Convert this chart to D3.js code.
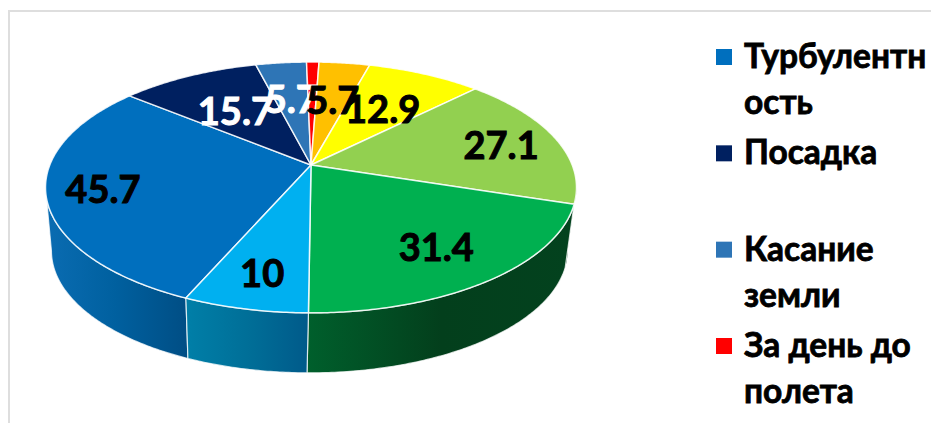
<!DOCTYPE html>
<html>
<head>
<meta charset="utf-8">
<script src="https://cdn.jsdelivr.net/npm/d3@7"></script>
<style>
    html, body { margin: 0; padding: 0; background: #fff; }
    svg { display: block; }
    text { font-family: Lato, "Open Sans", sans-serif; font-weight: 700; }
</style>
</head>
<body>
<div id="chart"></div>
<script>
// Slice values, in the chart's own order. Red has no readable label, its value is estimated.
const sliceKeys = ['turbulence', 'landing', 'touchdown', 'dayBefore', 'orange', 'yellow', 'lightGreen', 'green', 'cyan'];
const sliceValues = [45.7, 15.7, 5.7, 1.4, 5.7, 12.9, 27.1, 31.4, 10];
const sliceLabels = ['45.7', '15.7', '5.7', null, '5.7', '12.9', '27.1', '31.4', '10'];
const sliceColors = ['#006fbe', '#002060', '#2e75b6', '#ff0000', '#ffc000', '#ffff00', '#92d050', '#00b050', '#00b0f0'];
const labelColors = ['#000', '#fff', '#fff', null, '#000', '#000', '#000', '#000', '#000'];
const labelRadius = [0.785, 0.62, 0.66, 0, 0.65, 0.63, 0.78, 0.7, 0.74];

const legendNames = [['Турбулентн', 'ость'], ['Посадка', ''], ['Касание', 'земли'], ['За день до', 'полета']];
const legendColors = ['#006fbe', '#002060', '#2e75b6', '#ff0000'];

// Side wall gradients, only the front slices show a wall
const wallStops = {
    turbulence: ['#0a6cb2', '#00609f', '#004e85'],
    cyan: ['#007fa8', '#006f98', '#005a8a'],
    green: ['#005f2c', '#033f1c', '#03421e'],
    lightGreen: ['#03421e', '#03421e', '#03421e']
};

const width = 931, height = 423;
const apex = { x: 311, y: 165 };
const persp = { a: 261.2, b: 121.4, p: 0.179 };
const base = { scale: 0.972, dx: -1.5, dy: 63.5, cx: 311.5, cy: 187.5 };
const startAngle = 203.6 * Math.PI / 180;

const svg = d3.select('#chart').append('svg')
    .attr('width', width)
    .attr('height', height);

// Light frame, cut by the right and bottom edges of the picture
svg.append('path')
    .attr('d', `M9,${height}V11H${width}`)
    .attr('fill', 'none')
    .attr('stroke', '#dedede')
    .attr('stroke-width', 2);

// Circle angle to screen position on the tilted top face
function rim(theta) {
    const w = 1 + persp.p * Math.cos(theta);
    return [apex.x + persp.a * Math.sin(theta) / w, apex.y - persp.b * Math.cos(theta) / w];
}

// Same angle on the lower, slightly smaller face
function rimBase(theta) {
    const [x, y] = rim(theta);
    return [base.cx + base.dx + base.scale * (x - base.cx), base.cy + base.dy + base.scale * (y - base.cy)];
}

function sampleAngles(a0, a1) {
    const n = Math.max(2, Math.ceil(Math.abs(a1 - a0) / 0.01));
    return d3.range(n + 1).map(i => a0 + (a1 - a0) * i / n);
}

const line = d3.line();

const pie = d3.pie()
    .sort(null)
    .startAngle(startAngle)
    .endAngle(startAngle + 2 * Math.PI);

const slices = pie(sliceValues).map((d, i) => ({ ...d, key: sliceKeys[i], index: i }));

const defs = svg.append('defs');

// Angle where the outline of the pie turns away from the viewer
const silhouette = Math.acos(-persp.p);
const wallRange = d => {
    // angles here run past 360 for the slices after the top of the pie
    const turn = 2 * Math.PI;
    const lo = Math.max(d.startAngle, silhouette + (d.startAngle > turn ? turn : 0));
    const hi = Math.min(d.endAngle, (turn - silhouette) + (d.startAngle > turn ? turn : 0));
    return [lo, hi];
};

const walls = slices
    .map(d => ({ ...d, range: wallRange(d) }))
    .filter(d => d.range[1] > d.range[0] && wallStops[d.key]);

walls.forEach(d => {
    const xs = sampleAngles(d.range[0], d.range[1]).map(a => rim(a)[0]);
    const stops = wallStops[d.key];
    const grad = defs.append('linearGradient')
        .attr('id', 'wall-' + d.key)
        .attr('gradientUnits', 'userSpaceOnUse')
        .attr('x1', d3.min(xs)).attr('x2', d3.max(xs))
        .attr('y1', 0).attr('y2', 0);
    stops.forEach((c, i) => {
        grad.append('stop')
            .attr('offset', i / (stops.length - 1))
            .attr('stop-color', c);
    });
});

svg.append('g').selectAll('path')
    .data(walls)
    .join('path')
    .attr('d', d => {
        const angles = sampleAngles(d.range[0], d.range[1]);
        return line(angles.map(rim).concat(angles.slice().reverse().map(rimBase))) + 'Z';
    })
    .attr('fill', d => `url(#wall-${d.key})`)
    .attr('stroke', d => d.key === 'lightGreen' ? 'none' : '#fff')
    .attr('stroke-opacity', 0.75)
    .attr('stroke-width', 1.2);

// Top face
svg.append('g').selectAll('path')
    .data(slices)
    .join('path')
    .attr('d', d => line([[apex.x, apex.y]].concat(sampleAngles(d.startAngle, d.endAngle).map(rim))) + 'Z')
    .attr('fill', d => sliceColors[d.index])
    .attr('stroke', '#fff')
    .attr('stroke-opacity', 0.85)
    .attr('stroke-width', 1.5)
    .attr('stroke-linejoin', 'round');

// Value labels, later slices print over earlier ones like in the original.
// The thin stroke brings Lato up to the weight of the reference's bold face.
svg.append('g').selectAll('text')
    .data(slices.filter(d => sliceLabels[d.index] !== null))
    .join('text')
    .attr('x', d => {
        const p = rim((d.startAngle + d.endAngle) / 2);
        return apex.x + labelRadius[d.index] * (p[0] - apex.x);
    })
    .attr('y', d => {
        const p = rim((d.startAngle + d.endAngle) / 2);
        return apex.y + labelRadius[d.index] * (p[1] - apex.y);
    })
    .attr('text-anchor', 'middle')
    .attr('dominant-baseline', 'central')
    .attr('font-size', 38)
    .attr('fill', d => labelColors[d.index])
    .attr('stroke', d => labelColors[d.index])
    .attr('stroke-width', 1)
    .text(d => sliceLabels[d.index]);

// Legend, wrapped the way the narrow box wrapped it
const legendY = d3.scalePoint().domain(d3.range(legendNames.length)).range([57, 346]);
const legend = svg.append('g').selectAll('g')
    .data(legendNames)
    .join('g')
    .attr('transform', (d, i) => `translate(716,${legendY(i)})`);

legend.append('rect')
    .attr('y', -8)
    .attr('width', 16)
    .attr('height', 16)
    .attr('fill', (d, i) => legendColors[i]);

legend.selectAll('text')
    .data(d => d)
    .join('text')
    .attr('x', 28)
    .attr('y', (d, i) => 11 + i * 46)
    .attr('font-size', 33.5)
    .attr('fill', '#000')
    .attr('stroke', '#000')
    .attr('stroke-width', 0.8)
    .text(d => d);
</script>
</body>
</html>
